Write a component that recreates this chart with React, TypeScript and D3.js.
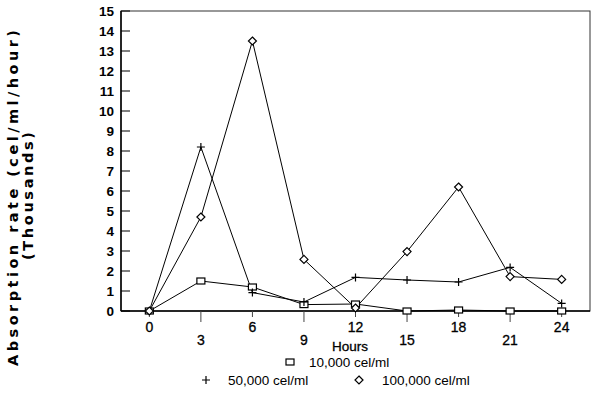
import React from "react";
import * as d3 from "d3";

// hours sampled
const hours = [0, 3, 6, 9, 12, 15, 18, 21, 24];
// absorption rate, thousands cel/ml/hour
const s10k = [0, 1.5, 1.2, 0.32, 0.35, 0, 0.05, 0, 0];
const s50k = [0, 8.2, 0.92, 0.45, 1.68, 1.55, 1.45, 2.18, 0.38];
const s100k = [0, 4.7, 13.5, 2.58, 0.15, 2.97, 6.2, 1.72, 1.58];
const yTicks = d3.range(0, 16);

const W = 600;
const H = 395;
const left = 121;
const right = 590;
const top = 11;
const bottom = 311;

const font = "'Liberation Sans', Arial, sans-serif";

export default function App() {
  const x = d3
    .scalePoint<number>()
    .domain(hours)
    .range([left, right])
    .padding(0.55);
  const y = d3.scaleLinear().domain([0, 15]).range([bottom, top]);

  const line = d3
    .line<number>()
    .x((_d, i) => x(hours[i]) as number)
    .y((d) => y(d));

  const series = [
    { name: "10,000 cel/ml", values: s10k, marker: "square" },
    { name: "50,000 cel/ml", values: s50k, marker: "plus" },
    { name: "100,000 cel/ml", values: s100k, marker: "diamond" },
  ];

  const marker = (type: string, cx: number, cy: number, key: string) => {
    if (type === "square")
      return (
        <rect key={key} x={cx - 4} y={cy - 3} width={8} height={6} fill="#fff" stroke="#000" strokeWidth={1.2} />
      );
    if (type === "diamond")
      return (
        <path
          key={key}
          d={`M${cx},${cy - 4}L${cx + 4},${cy}L${cx},${cy + 4}L${cx - 4},${cy}Z`}
          fill="#fff"
          stroke="#000"
          strokeWidth={1.2}
        />
      );
    return (
      <path key={key} d={`M${cx - 4},${cy}H${cx + 4}M${cx},${cy - 4}V${cy + 4}`} stroke="#000" strokeWidth={1.2} />
    );
  };

  return (
    <svg
      width={W}
      height={H}
      style={{ position: "absolute", left: 0, top: 0, background: "#fff" }}
      fontFamily={font}
    >
      {/* frame */}
      <rect x={left} y={top} width={right - left} height={bottom - top} fill="none" stroke="#333" strokeWidth={1} />
      <line x1={left} x2={left} y1={top} y2={bottom} stroke="#000" strokeWidth={1.5} />
      <line x1={left} x2={right} y1={bottom} y2={bottom} stroke="#000" strokeWidth={1.5} />

      {/* y axis */}
      {yTicks.map((t) => (
        <g key={t}>
          <line x1={left} x2={left + 9} y1={y(t)} y2={y(t)} stroke="#000" strokeWidth={1} />
          <text x={114} y={y(t)} dy="0.36em" textAnchor="end" fontSize={13.5} fontWeight="bold">
            {t}
          </text>
        </g>
      ))}

      {/* x axis */}
      {hours.map((h, i) => {
        const px = x(h) as number;
        const odd = i % 2 === 1;
        return (
          <g key={h}>
            <line x1={px} x2={px} y1={bottom} y2={bottom + (odd ? 11 : 6)} stroke="#444" strokeWidth={1} />
            <text x={px} y={odd ? 345 : 332} textAnchor="middle" fontSize={14} stroke="#000" strokeWidth={0.3}>
              {h}
            </text>
          </g>
        );
      })}
      <text x={350} y={351} textAnchor="middle" fontSize={13.5} stroke="#000" strokeWidth={0.3}>
        Hours
      </text>

      {/* y title */}
      <text
        transform="translate(18,198) rotate(-90)"
        textAnchor="middle"
        fontSize={14.5}
        fontWeight="bold"
        fontFamily="'DejaVu Sans', sans-serif"
        textLength={336}
        lengthAdjust="spacing"
      >
        Absorption rate (cel/ml/hour)
      </text>
      <text
        transform="translate(33,196) rotate(-90)"
        textAnchor="middle"
        fontSize={14.5}
        fontWeight="bold"
        fontFamily="'DejaVu Sans', sans-serif"
        textLength={128}
        lengthAdjust="spacing"
      >
        (Thousands)
      </text>

      {/* lines */}
      {series.map((s) => (
        <path key={s.name} d={line(s.values) || ""} fill="none" stroke="#000" strokeWidth={1} />
      ))}
      {series.map((s) =>
        s.values.map((v, i) => marker(s.marker, x(hours[i]) as number, y(v), `${s.name}-${i}`))
      )}

      {/* legend */}
      {marker("square", 290, 362, "lg1")}
      <text x={309} y={362} dy="0.35em" fontSize={13.5}>
        {series[0].name}
      </text>
      {marker("plus", 206, 380, "lg2")}
      <text x={228} y={380} dy="0.35em" fontSize={13.5}>
        {series[1].name}
      </text>
      {marker("diamond", 359, 380, "lg3")}
      <text x={382} y={380} dy="0.35em" fontSize={13.5}>
        {series[2].name}
      </text>
    </svg>
  );
}
